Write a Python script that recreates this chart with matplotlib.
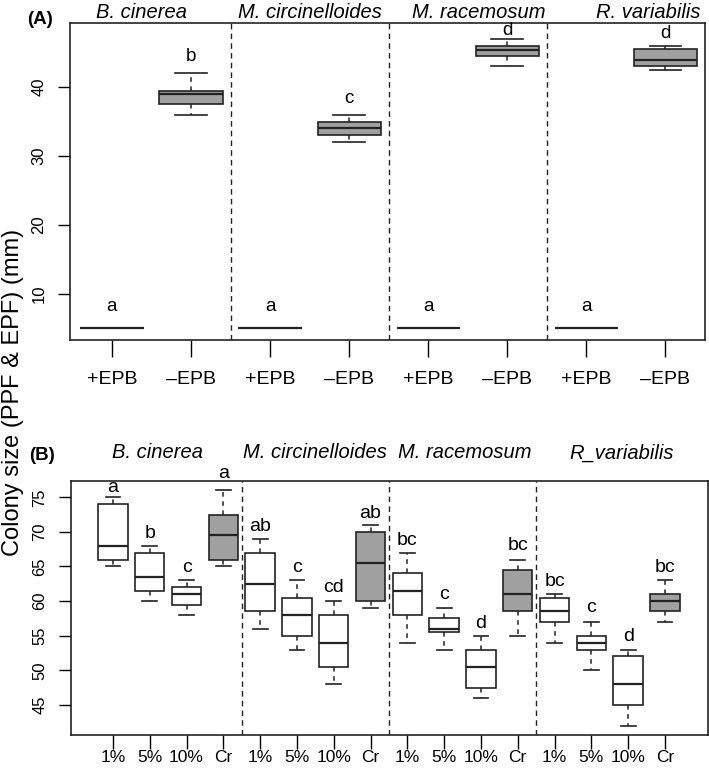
import matplotlib
matplotlib.use("Agg")
import matplotlib.pyplot as plt
from matplotlib.transforms import blended_transform_factory

plt.rcParams['font.family'] = ['Liberation Sans', 'DejaVu Sans']

# Panel A: colony size with / without EPB
species_a = ['B. cinerea', 'M. circinelloides', 'M. racemosum', 'R. variabilis']
ticks_a = ['+EPB', '\u2013EPB'] * 4
lo_a = [5, 36, 5, 32, 5, 43, 5, 42.5]
q1_a = [5, 37.5, 5, 33, 5, 44.5, 5, 43]
med_a = [5, 39, 5, 34, 5, 45.4, 5, 44]
q3_a = [5, 39.5, 5, 35, 5, 46, 5, 45.5]
hi_a = [5, 42, 5, 36, 5, 47, 5, 46]
letters_a = ['a', 'b', 'a', 'c', 'a', 'd', 'a', 'd']
letter_y_a = [8.2, 44.4, 8.2, 38.3, 8.2, 48.2, 8.2, 47.8]
grey_a = [False, True] * 4

# Panel B: colony size by concentration
species_b = ['B. cinerea', 'M. circinelloides', 'M. racemosum', 'R_variabilis']
ticks_b = ['1%', '5%', '10%', 'Cr'] * 4
lo_b = [65, 60, 58, 65, 56, 53, 48, 59, 54, 53, 46, 55, 54, 50, 42, 57]
q1_b = [66, 61.5, 59.5, 66, 58.5, 55, 50.5, 60, 58, 55.5, 47.5, 58.5, 57, 53, 45, 58.5]
med_b = [68, 63.5, 61, 69.5, 62.5, 58, 54, 65.5, 61.5, 56, 50.5, 61, 58.5, 54, 48, 60]
q3_b = [74, 67, 62, 72.5, 67, 60.5, 58, 70, 64, 57.5, 53, 64.5, 60.5, 55, 52, 61]
hi_b = [75, 68, 63, 76, 69, 63, 60, 71, 67, 59, 55, 66, 61, 57, 53, 63]
letters_b = ['a', 'b', 'c', 'a', 'ab', 'c', 'cd', 'ab',
             'bc', 'c', 'd', 'bc', 'bc', 'c', 'd', 'bc']
letter_y_b = [76.4, 69.7, 64.8, 78.5, 70.8, 64.8, 61.9, 72.7,
              68.8, 60.9, 56.7, 68.1, 62.8, 59.0, 54.9, 64.8]
grey_b = [False, False, False, True] * 4

W, H = 709, 768
fig = plt.figure(figsize=(W / 100, H / 100), dpi=100)

def px_axes(l, t, r, b):
    return fig.add_axes([l / W, 1 - b / H, (r - l) / W, (b - t) / H])

def draw_boxes(ax, lo, q1, med, q3, hi, grey):
    stats = []
    for i in range(len(lo)):
        stats.append({'whislo': lo[i], 'q1': q1[i], 'med': med[i],
                      'q3': q3[i], 'whishi': hi[i], 'fliers': []})
    pos = list(range(1, len(lo) + 1))
    res = ax.bxp(stats, positions=pos, widths=0.8, capwidths=0.4,
                 patch_artist=True, showfliers=False,
                 boxprops=dict(linewidth=1.2, edgecolor='#222222'),
                 whiskerprops=dict(linewidth=1.1, linestyle=(0, (3, 3)), color='#222222'),
                 capprops=dict(linewidth=1.2, color='#222222'),
                 medianprops=dict(linewidth=1.6, color='#222222'))
    for patch, g in zip(res['boxes'], grey):
        patch.set_facecolor('#a0a0a0' if g else 'white')

def style_axes(ax, fs_x):
    for s in ax.spines.values():
        s.set_linewidth(1.2)
        s.set_color('#222222')
    ax.tick_params(axis='y', length=9, width=1, labelsize=12, labelrotation=90, pad=8)
    ax.tick_params(axis='x', length=12, width=1, labelsize=fs_x)
    for lab in ax.get_yticklabels():
        lab.set_verticalalignment('center')

# ---- Panel A
ax1 = px_axes(70, 23, 705, 340)
draw_boxes(ax1, lo_a, q1_a, med_a, q3_a, hi_a, grey_a)
ax1.set_xlim(0.47, 8.5)
ax1.set_ylim(3.3, 49.3)
ax1.set_yticks([10, 20, 30, 40])
ax1.set_xticks(range(1, 9))
ax1.set_xticklabels(ticks_a)
style_axes(ax1, 14)
ax1.tick_params(axis='x', pad=10)
for x in [2.5, 4.5, 6.5]:
    ax1.axvline(x, color='#222222', lw=1, linestyle=(0, (4, 3)))
for i, (t, y) in enumerate(zip(letters_a, letter_y_a)):
    ax1.text(i + 1, y, t, ha='center', va='center', fontsize=13.5, clip_on=False)
tr1 = blended_transform_factory(ax1.transData, fig.transFigure)
for x, name in zip([1.37, 3.5, 5.64, 7.78], species_a):
    ax1.text(x, 1 - 13 / H, name, transform=tr1, ha='center', va='center',
             fontsize=14.5, style='italic')
fig.text(40 / W, 1 - 19 / H, '(A)', ha='center', va='center', fontsize=13.5, weight='bold')

# ---- Panel B
ax2 = px_axes(71, 481, 708, 735)
draw_boxes(ax2, lo_b, q1_b, med_b, q3_b, hi_b, grey_b)
ax2.set_xlim(-0.14, 17.17)
ax2.set_ylim(40.64, 77.36)
ax2.set_yticks([45, 50, 55, 60, 65, 70, 75])
ax2.set_xticks(range(1, 17))
ax2.set_xticklabels(ticks_b)
style_axes(ax2, 12.5)
ax2.tick_params(axis='x', length=10, pad=1)
for x in [4.5, 8.5, 12.5]:
    ax2.axvline(x, color='#222222', lw=1, linestyle=(0, (4, 3)))
for i, (t, y) in enumerate(zip(letters_b, letter_y_b)):
    ax2.text(i + 1, y, t, ha='center', va='center', fontsize=14, clip_on=False)
tr2 = blended_transform_factory(ax2.transData, fig.transFigure)
for x, name in zip([2.2, 6.49, 10.57, 14.83], species_b):
    ax2.text(x, 1 - 453 / H, name, transform=tr2, ha='center', va='center',
             fontsize=14.5, style='italic')
fig.text(42 / W, 1 - 455 / H, '(B)', ha='center', va='center', fontsize=13.5, weight='bold')

fig.text(13 / W, 1 - 392 / H, 'Colony size (PPF & EPF) (mm)', rotation=90,
         ha='center', va='center', fontsize=17)

fig.savefig('out.png', dpi=100)
